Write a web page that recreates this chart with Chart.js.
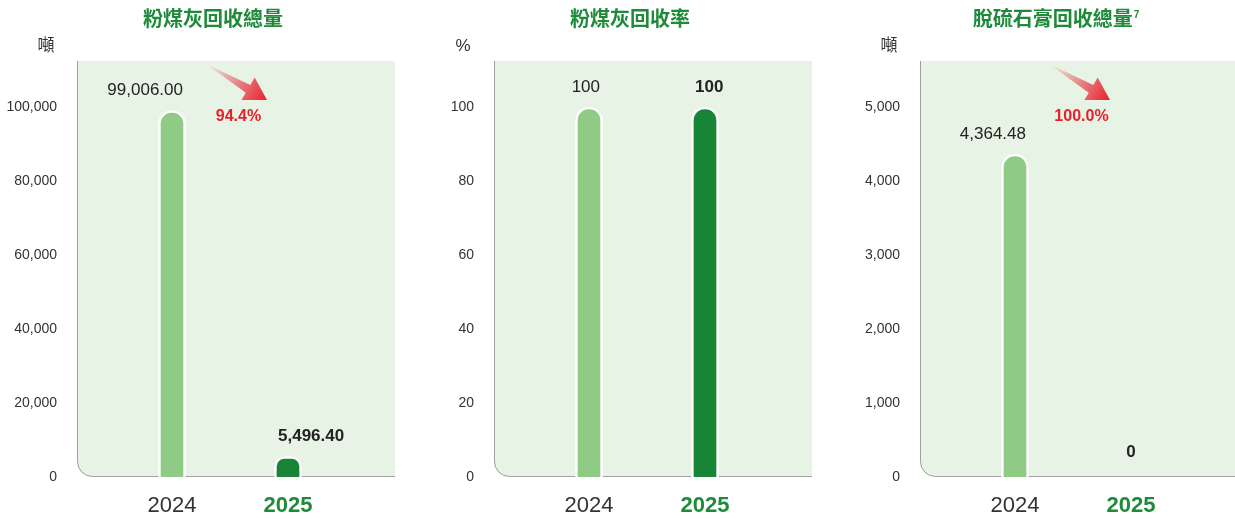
<!DOCTYPE html>
<html>
<head>
<meta charset="utf-8">
<script src="https://cdn.jsdelivr.net/npm/chart.js@4.4.1/dist/chart.umd.min.js"></script>
<style>
  html, body { margin: 0; padding: 0; background: #fff; overflow: hidden; }
  body { width: 1235px; height: 519px; position: relative; }
  canvas { position: absolute; top: 0; }
</style>
</head>
<body>
<canvas id="c1" width="400" height="519" style="left:0px"></canvas>
<canvas id="c2" width="400" height="519" style="left:417px"></canvas>
<canvas id="c3" width="400" height="519" style="left:843px"></canvas>
<script>
const years = ['2024', '2025'];
const flyAshTotal = [99006.00, 5496.40];
const flyAshRate = [100, 100];
const gypsumTotal = [4364.48, 0];

const titles = ['粉煤灰回收總量', '粉煤灰回收率', '脫硫石膏回收總量'];
const titleNotes = ['', '', '7'];
const units = ['噸', '%', '噸'];
const yStep = [20000, 20, 1000];
const yTop = [100000, 100, 5000]; // highest labelled tick
const decimals = [2, 0, 2];

const FONT = "'Liberation Sans', Arial, sans-serif";
const CJK = "'Noto Sans CJK TC', 'Noto Sans CJK SC', sans-serif";
const GREEN = '#1e8a3a';
const RED = '#e8202c';

function fmt(v, d) {
  if (v === 0) return '0';
  return v.toLocaleString('en-US', { minimumFractionDigits: d, maximumFractionDigits: d });
}

const deco = {
  id: 'deco',
  beforeDraw(chart, args, o) {
    const { ctx, chartArea: a } = chart;
    const l = a.left - 37, r = a.right + 49, t = a.top, b = a.bottom, rad = 15;
    ctx.save();
    // green panel
    ctx.beginPath();
    ctx.moveTo(l, t); ctx.lineTo(r, t); ctx.lineTo(r, b); ctx.lineTo(l + rad, b);
    ctx.arcTo(l, b, l, b - rad, rad);
    ctx.closePath();
    ctx.fillStyle = '#e7f3e5';
    ctx.fill();
    ctx.beginPath();
    ctx.moveTo(l + 0.5, t); ctx.lineTo(l + 0.5, b - rad);
    ctx.arcTo(l + 0.5, b - 0.5, l + rad, b - 0.5, rad);
    ctx.lineTo(r, b - 0.5);
    ctx.strokeStyle = '#a0a0a0'; ctx.lineWidth = 1;
    ctx.stroke();

    // title
    ctx.textBaseline = 'middle';
    ctx.textAlign = 'left';
    ctx.font = 'bold 20px ' + CJK;
    const w = ctx.measureText(o.title).width;
    ctx.font = 'bold 10px ' + FONT;
    const wn = o.note ? ctx.measureText(o.note).width + 1 : 0;
    const x0 = 213 - (w + wn) / 2;
    ctx.fillStyle = GREEN;
    ctx.font = 'bold 20px ' + CJK;
    ctx.fillText(o.title, x0, 18);
    if (o.note) {
      ctx.font = 'bold 10px ' + FONT;
      ctx.fillText(o.note, x0 + w + 1, 15);
    }
    // unit
    ctx.fillStyle = '#333';
    ctx.textAlign = 'center';
    ctx.font = "17px 'Liberation Sans', 'Noto Sans CJK TC', sans-serif";
    ctx.fillText(o.unit, 46, 46);
    ctx.restore();
  },
  afterDatasetsDraw(chart, args, o) {
    const { ctx, chartArea: a } = chart;
    const meta = chart.getDatasetMeta(0);
    const vals = chart.data.datasets[0].data;
    ctx.save();
    ctx.textAlign = 'center';
    ctx.textBaseline = 'middle';
    ctx.fillStyle = '#222';
    meta.data.forEach((el, i) => {
      const txt = fmt(vals[i], o.decimals);
      ctx.font = (i === 1 ? 'bold ' : '') + '17px ' + FONT;
      const w = ctx.measureText(txt).width;
      // 2024 label hangs to the left of its bar, 2025 label to the right
      const cx = i === 0 ? Math.min(el.x, el.x + 11 - w / 2) : Math.max(el.x, el.x - 10 + w / 2);
      ctx.fillText(txt, cx, el.y - (vals[i] === 0 ? 25 : 20));
    });

    // change arrow
    if (vals[0] !== vals[1]) {
      const x0 = meta.data[0].x, x1 = meta.data[1].x;
      const T = { x: x0 + 34, y: a.top + 3 };
      const P = { x: x1 - 21, y: a.top + 39 };
      const len = Math.hypot(P.x - T.x, P.y - T.y);
      const d = { x: (P.x - T.x) / len, y: (P.y - T.y) / len };
      const n = { x: -d.y, y: d.x };
      const hl = 22, hw = 13, sw = 4.5;
      const B = { x: P.x - d.x * hl, y: P.y - d.y * hl };
      const g = ctx.createLinearGradient(T.x, T.y, P.x, P.y);
      g.addColorStop(0, 'rgba(232,32,44,0)');
      g.addColorStop(0.55, 'rgba(232,32,44,0.55)');
      g.addColorStop(1, 'rgba(232,32,44,1)');
      ctx.beginPath();
      ctx.moveTo(T.x, T.y);
      ctx.lineTo(B.x + n.x * sw, B.y + n.y * sw);
      ctx.lineTo(B.x + n.x * hw, B.y + n.y * hw);
      ctx.lineTo(P.x, P.y);
      ctx.lineTo(B.x - n.x * hw, B.y - n.y * hw);
      ctx.lineTo(B.x - n.x * sw, B.y - n.y * sw);
      ctx.closePath();
      ctx.fillStyle = g;
      ctx.fill();

      const pct = ((1 - vals[1] / vals[0]) * 100).toFixed(1) + '%';
      ctx.fillStyle = RED;
      ctx.font = 'bold 16px ' + FONT;
      ctx.fillText(pct, (T.x + P.x) / 2 + 2, a.top + 56);
    }
    ctx.restore();
  }
};

function makeChart(id, values, k) {
  return new Chart(document.getElementById(id), {
    type: 'bar',
    data: {
      labels: years,
      datasets: [{
        data: values,
        backgroundColor: ['#8fcb85', '#178436'],
        borderColor: '#ffffff',
        borderWidth: 2.5,
        borderRadius: 14,
        borderSkipped: 'bottom',
        barThickness: 27
      }]
    },
    options: {
      responsive: false,
      animation: false,
      layout: { padding: { top: 61, right: 54, left: 0, bottom: 0 } },
      plugins: {
        legend: { display: false },
        tooltip: { enabled: false },
        deco: { title: titles[k], note: titleNotes[k], unit: units[k], decimals: decimals[k] }
      },
      scales: {
        x: {
          offset: true,
          grid: { display: false, drawTicks: false },
          border: { display: false },
          afterFit: (s) => { s.height = 42; },
          ticks: {
            padding: 16,
            color: (c) => c.index === 1 ? GREEN : '#333',
            font: (c) => ({ family: FONT, size: 22, weight: c.index === 1 ? 'bold' : 'normal' })
          }
        },
        y: {
          min: 0,
          max: yTop[k] * 416 / 370,
          grid: { display: false, drawTicks: false },
          border: { display: false },
          afterFit: (s) => { s.width = 114; s.paddingTop = 0; s.paddingBottom = 0; },
          afterBuildTicks: (s) => {
            s.ticks = [];
            for (let v = 0; v <= yTop[k]; v += yStep[k]) s.ticks.push({ value: v });
          },
          ticks: {
            padding: 57,
            color: '#333',
            font: { family: FONT, size: 14 },
            callback: (v) => v.toLocaleString('en-US')
          }
        }
      }
    },
    plugins: [deco]
  });
}

makeChart('c1', flyAshTotal, 0);
makeChart('c2', flyAshRate, 1);
makeChart('c3', gypsumTotal, 2);
</script>
</body>
</html>
